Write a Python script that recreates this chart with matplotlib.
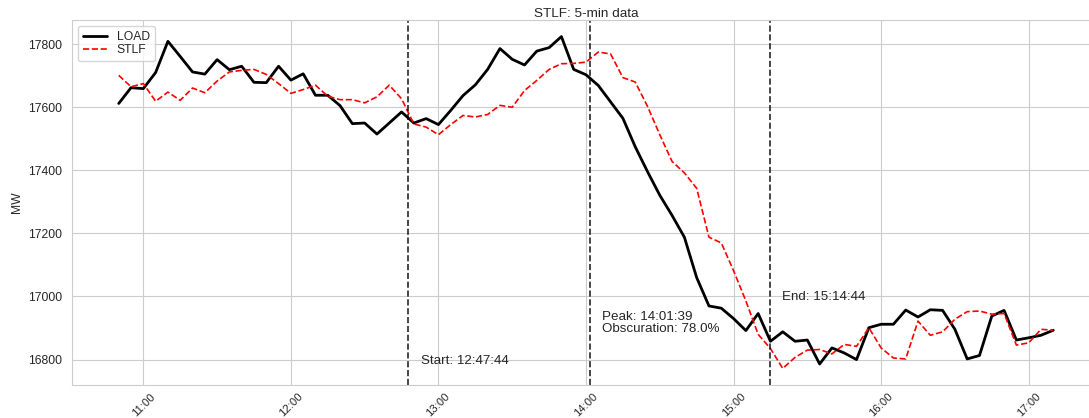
import pandas as pd
import seaborn as sns
import matplotlib.pyplot as plt
import matplotlib.dates as mdates

# 5-min samples from 10:50 to 17:10
times = pd.date_range('2024-04-08 10:50', periods=77, freq='5min')

load = [17612, 17662, 17659, 17710, 17809, 17761, 17712, 17705, 17751, 17719,
        17730, 17679, 17678, 17730, 17686, 17706, 17638, 17638, 17605, 17548,
        17550, 17515, 17550, 17585, 17550, 17564, 17545, 17590, 17637, 17671,
        17720, 17786, 17752, 17734, 17778, 17789, 17824, 17720, 17703, 17669,
        17617, 17565, 17475, 17396, 17321, 17257, 17188, 17060, 16970, 16963,
        16930, 16892, 16946, 16858, 16888, 16858, 16862, 16786, 16837, 16821,
        16800, 16901, 16912, 16912, 16957, 16935, 16958, 16956, 16896, 16802,
        16813, 16938, 16956, 16862, 16869, 16877, 16893]

stlf = [17701, 17665, 17675, 17619, 17648, 17622, 17661, 17646, 17683, 17712,
        17717, 17720, 17704, 17675, 17644, 17656, 17670, 17635, 17624, 17624,
        17614, 17633, 17670, 17627, 17547, 17537, 17513, 17545, 17574, 17569,
        17577, 17606, 17600, 17653, 17685, 17720, 17738, 17739, 17743, 17775,
        17769, 17694, 17680, 17603, 17513, 17428, 17392, 17343, 17188, 17170,
        17082, 16986, 16880, 16835, 16772, 16807, 16830, 16832, 16818, 16848,
        16842, 16901, 16837, 16805, 16802, 16922, 16877, 16888, 16928, 16952,
        16954, 16944, 16946, 16846, 16853, 16896, 16893]

# eclipse markers
t_start = pd.Timestamp('2024-04-08 12:47:44')
t_peak = pd.Timestamp('2024-04-08 14:01:39')
t_end = pd.Timestamp('2024-04-08 15:14:44')
obscuration = 78.0

sns.set_style('whitegrid')
plt.rcParams['font.family'] = ['Liberation Sans', 'DejaVu Sans']
plt.rcParams['font.size'] = 8.7

# initialize figure (axes runs slightly past the right edge)
fig = plt.figure(figsize=(10.89, 4.18), dpi=100)
ax = fig.add_axes([72/1089, 1-385/418, (1100-72)/1089, (385-20)/418])

# draw series
ax.plot(times, load, color='k', lw=2, label='LOAD')
ax.plot(times, stlf, color='red', ls='--', lw=1.2, label='STLF')

# eclipse lines and labels
off = pd.Timedelta(minutes=5)
kw = dict(color='k', ls='--', lw=1.2, alpha=0.85)
for t in (t_start, t_peak, t_end):
    ax.axvline(t, **kw)
tkw = dict(fontsize=9.6, color='.15')
ax.text(t_start + off, 16785, 'Start: %s' % t_start.strftime('%H:%M:%S'),
        **tkw)
ax.text(t_peak + off, 16886, 'Peak: %s\nObscuration: %.1f%%'
        % (t_peak.strftime('%H:%M:%S'), obscuration), linespacing=1.0,
        **tkw)
ax.text(t_end + off, 16990, 'End: %s' % t_end.strftime('%H:%M:%S'), **tkw)

# axes formatting
ax.xaxis.set_major_locator(mdates.HourLocator())
ax.xaxis.set_major_formatter(mdates.DateFormatter('%H:%M'))
ax.tick_params(axis='x', labelsize=8.1, pad=1)
plt.setp(ax.get_xticklabels(), rotation=45)
ax.set_ylabel('MW')
ax.set_title('STLF: 5-min data', fontsize=9.7, pad=2)
ax.legend(loc='upper left', fontsize=8.7, labelspacing=0.1,
          borderaxespad=0.5)

fig.savefig('out.png', dpi=100)
